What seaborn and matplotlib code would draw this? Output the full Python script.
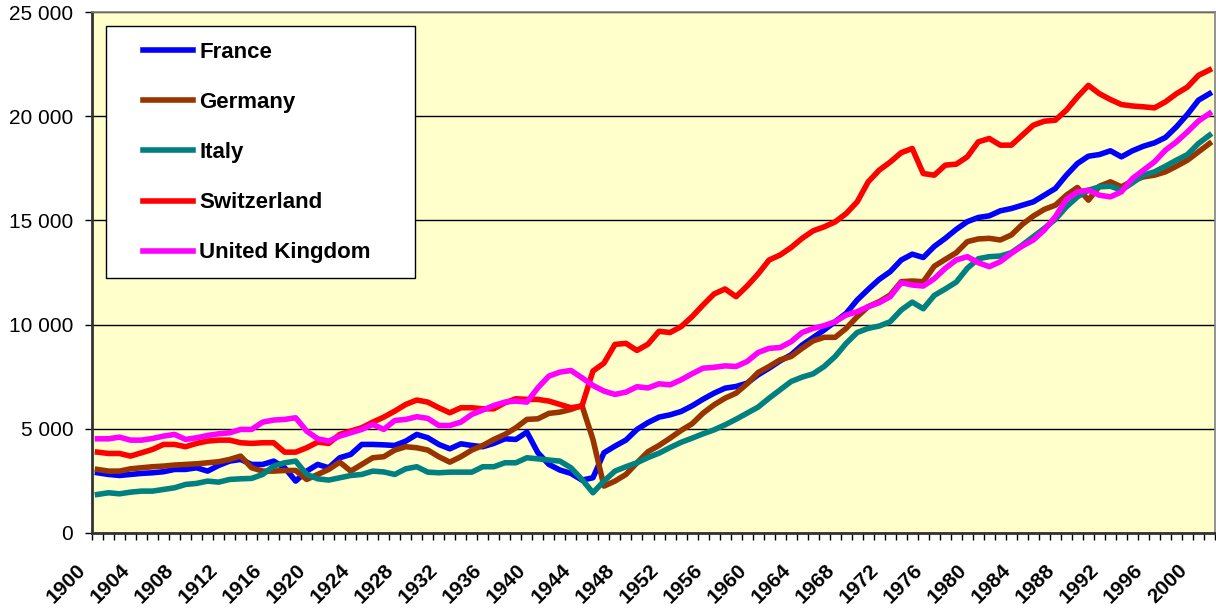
import matplotlib
matplotlib.use('Agg')
import pandas as pd
import seaborn as sns
import matplotlib.pyplot as plt
import matplotlib.transforms as mtransforms
from matplotlib.lines import Line2D
from matplotlib.patches import Rectangle
from matplotlib.ticker import FuncFormatter

# GDP per capita, 1900-2001
years = list(range(1900, 2002))

france = [2890, 2810, 2760, 2810, 2860, 2890, 2940, 3050, 3050, 3130,
          2970, 3240, 3450, 3530, 3290, 3290, 3450, 3130, 2490, 2970,
          3290, 3130, 3610, 3770, 4250, 4250, 4230, 4200, 4410, 4730,
          4570, 4250, 4040, 4280, 4200, 4140, 4300, 4520, 4490, 4840,
          3850, 3290, 3020, 2860, 2540, 2650, 3850, 4170, 4460, 4970,
          5300, 5560, 5670, 5830, 6100, 6420, 6710, 6950, 7030, 7190,
          7590, 7910, 8260, 8550, 9020, 9380, 9740, 10140, 10540, 11180,
          11690, 12170, 12540, 13100, 13380, 13220, 13750, 14140, 14570, 14940,
          15140, 15220, 15460, 15570, 15730, 15890, 16210, 16530, 17170, 17730,
          18080, 18160, 18340, 18050, 18340, 18560, 18720, 18980, 19490, 20090,
          20770, 21080]

germany = [3050, 2970, 2970, 3080, 3130, 3180, 3210, 3260, 3290, 3320,
           3370, 3420, 3530, 3690, 3130, 2970, 2970, 3000, 3000, 2570,
           2810, 3050, 3400, 2970, 3290, 3610, 3660, 3980, 4140, 4090,
           3980, 3660, 3400, 3660, 3980, 4200, 4490, 4730, 5050, 5450,
           5480, 5740, 5800, 5930, 6120, 4490, 2250, 2490, 2810, 3370,
           3900, 4200, 4550, 4920, 5240, 5750, 6150, 6470, 6710, 7160,
           7700, 7990, 8310, 8470, 8860, 9220, 9390, 9390, 9820, 10380,
           10860, 11100, 11420, 12060, 12090, 12060, 12800, 13130, 13450, 13980,
           14110, 14140, 14060, 14300, 14810, 15210, 15530, 15730, 16210, 16580,
           15970, 16640, 16850, 16610, 16900, 17090, 17170, 17330, 17600, 17890,
           18290, 18690]

italy = [1850, 1930, 1880, 1960, 2010, 2010, 2090, 2170, 2330, 2380,
         2490, 2440, 2570, 2600, 2620, 2810, 3210, 3370, 3450, 2810,
         2600, 2540, 2650, 2760, 2810, 2970, 2930, 2810, 3080, 3180,
         2920, 2890, 2920, 2920, 2920, 3180, 3180, 3370, 3370, 3610,
         3560, 3500, 3450, 3130, 2570, 1930, 2490, 2970, 3180, 3370,
         3620, 3830, 4100, 4350, 4550, 4760, 4950, 5190, 5460, 5750,
         6040, 6470, 6870, 7270, 7480, 7640, 7990, 8470, 9100, 9620,
         9820, 9930, 10140, 10700, 11080, 10760, 11400, 11710, 12040, 12700,
         13160, 13260, 13290, 13450, 13820, 14220, 14620, 15050, 15650, 16130,
         16450, 16610, 16640, 16450, 16800, 17170, 17330, 17600, 17890, 18160,
         18690, 19090]

switzerland = [3880, 3816, 3816, 3690, 3850, 4010, 4250, 4250, 4140, 4300,
               4410, 4456, 4456, 4330, 4300, 4330, 4330, 3880, 3880, 4090,
               4360, 4300, 4730, 4890, 5050, 5320, 5560, 5850, 6170, 6380,
               6280, 6010, 5770, 6010, 6010, 5960, 5960, 6250, 6440, 6410,
               6410, 6330, 6170, 6010, 6090, 7770, 8150, 9050, 9100, 8760,
               9060, 9680, 9620, 9900, 10380, 10940, 11470, 11710, 11340, 11850,
               12430, 13100, 13340, 13700, 14140, 14500, 14690, 14930, 15330, 15890,
               16850, 17410, 17800, 18250, 18450, 17250, 17170, 17650, 17700, 18050,
               18770, 18930, 18610, 18610, 19090, 19570, 19760, 19810, 20290, 20920,
               21480, 21080, 20800, 20560, 20490, 20450, 20400, 20690, 21080, 21400,
               21960, 22220]

uk = [4520, 4520, 4600, 4456, 4456, 4536, 4650, 4730, 4490, 4570,
      4680, 4760, 4810, 4970, 4970, 5320, 5420, 5450, 5530, 4890,
      4520, 4410, 4650, 4810, 4970, 5210, 4970, 5400, 5450, 5580,
      5500, 5160, 5160, 5320, 5690, 5900, 6120, 6280, 6330, 6280,
      6970, 7530, 7720, 7800, 7450, 7080, 6810, 6650, 6760, 7020,
      6960, 7160, 7110, 7350, 7640, 7910, 7950, 8020, 7990, 8230,
      8660, 8860, 8900, 9180, 9620, 9820, 9950, 10140, 10460, 10620,
      10860, 11050, 11340, 12010, 11900, 11850, 12200, 12700, 13100, 13260,
      12970, 12780, 13020, 13420, 13770, 14060, 14540, 15180, 16010, 16370,
      16450, 16210, 16130, 16370, 17010, 17410, 17810, 18370, 18770, 19250,
      19770, 20130]

countries = ['France', 'Germany', 'Italy', 'Switzerland', 'United Kingdom']
colors = ['#0000FF', '#993300', '#008080', '#FF0000', '#FF00FF']
label_years = list(range(1900, 2001, 4))

series = [france, germany, italy, switzerland, uk]
df = pd.DataFrame({
    'year': years * len(countries),
    'gdp': [v for s in series for v in s],
    'country': [c for c in countries for _ in years],
})

plt.rcParams['font.family'] = ['Liberation Sans', 'DejaVu Sans']

fig = plt.figure(figsize=(12.16, 6.11), dpi=100)
ax = fig.add_axes([92 / 1216, 1 - 533 / 611, 1123 / 1216, 521 / 611])
ax.set_facecolor('#FFFFCC')

sns.lineplot(data=df, x='year', y='gdp', hue='country', hue_order=countries,
             palette=dict(zip(countries, colors)), linewidth=4, ax=ax,
             legend=False, zorder=3)

ax.set_xlim(1899.5, 2001.5)
ax.set_ylim(0, 25000)
ax.set_xlabel('')
ax.set_ylabel('')

# y axis
ax.set_yticks(range(0, 25001, 5000))
ax.yaxis.set_major_formatter(FuncFormatter(lambda v, p: f'{int(v):,}'.replace(',', ' ')))
ax.tick_params(axis='y', direction='out', length=5, width=1, labelsize=15, pad=8.5)
ax.yaxis.grid(True, color='black', linewidth=1)
ax.set_axisbelow(True)

# x axis: tick marks at every year boundary, labels every 4 years
ax.set_xticks([y - 0.5 for y in years] + [2001.5], minor=True)
ax.set_xticks(label_years)
ax.set_xticklabels([str(y) for y in label_years], rotation=45, ha='right', va='top',
                   fontweight='bold', fontsize=15)
ax.tick_params(axis='x', which='minor', direction='out', length=5, width=1)
ax.tick_params(axis='x', which='major', length=0, pad=20)
shift = mtransforms.ScaledTranslation(-8 / 100, 0, fig.dpi_scale_trans)
for lab in ax.get_xticklabels():
    lab.set_transform(lab.get_transform() + shift)

for side in ['top', 'right']:
    ax.spines[side].set_color('#808080')
    ax.spines[side].set_linewidth(1.2)
for side in ['left', 'bottom']:
    ax.spines[side].set_color('#333333')
    ax.spines[side].set_linewidth(2)

# legend box
ax.add_patch(Rectangle((14 / 1123, 255 / 521), 309 / 1123, 252 / 521,
                       transform=ax.transAxes, facecolor='white',
                       edgecolor='black', linewidth=1, zorder=5))
handles = [Line2D([0], [0], color=c, linewidth=4) for c in colors]
leg = ax.legend(handles, countries, loc='upper left',
                bbox_to_anchor=(51 / 1123, 491 / 521), frameon=False,
                borderpad=0, borderaxespad=0, labelspacing=1.31,
                handlelength=2.25, handletextpad=0.28,
                prop={'weight': 'bold', 'size': 16})
leg.set_zorder(6)

fig.savefig('out.png', dpi=100)
